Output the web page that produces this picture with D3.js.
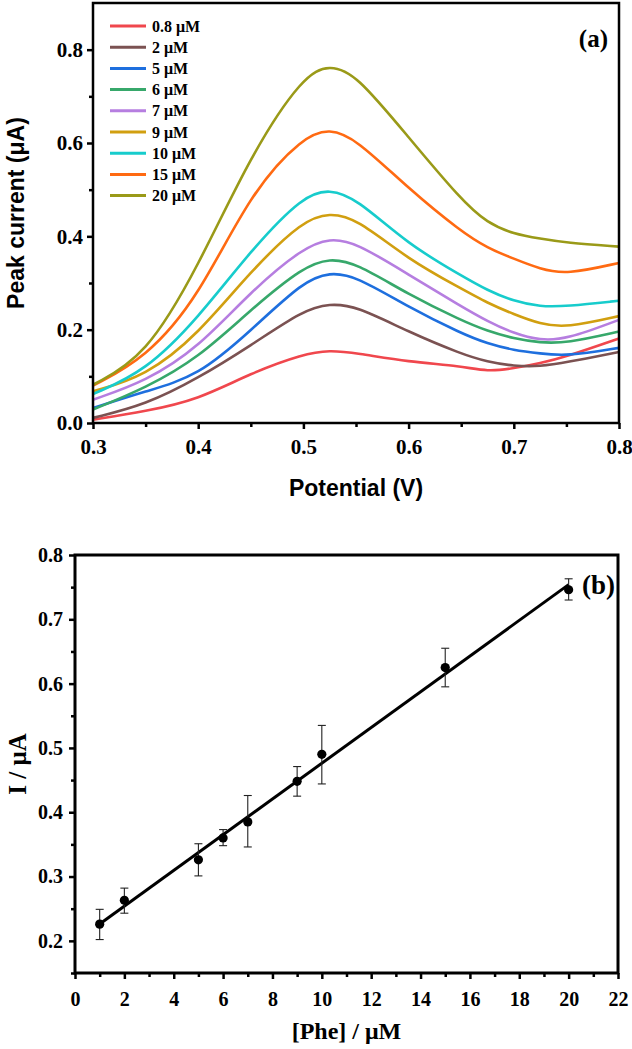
<!doctype html>
<html lang="en">
<head>
<meta charset="utf-8" />
<title>Phe DPV curves and calibration</title>
<script src="https://d3js.org/d3.v7.min.js"></script>
<style>
    body { margin: 0; background: #fff; }
    svg text { font-family: "Liberation Serif", "Times New Roman", serif; font-weight: bold; fill: #000; }
</style>
</head>
<body>

<svg id="chart" width="632" height="1049"></svg>

<script>
// ---- panel (a): DPV curves ----
const potential = [0.30, 0.35, 0.40, 0.45, 0.50, 0.525, 0.55, 0.60, 0.65, 0.675, 0.70, 0.725, 0.75, 0.80];

const i08 = [0.007, 0.025, 0.050, 0.107, 0.148, 0.156, 0.150, 0.131, 0.122, 0.110, 0.117, 0.128, 0.142, 0.181];
const i2  = [0.011, 0.039, 0.096, 0.166, 0.242, 0.256, 0.251, 0.195, 0.148, 0.131, 0.122, 0.121, 0.130, 0.152];
const i5  = [0.032, 0.068, 0.100, 0.198, 0.304, 0.323, 0.315, 0.248, 0.192, 0.170, 0.156, 0.149, 0.143, 0.161];
const i6  = [0.029, 0.075, 0.139, 0.243, 0.335, 0.353, 0.343, 0.275, 0.220, 0.197, 0.181, 0.172, 0.171, 0.196];
const i7  = [0.050, 0.089, 0.161, 0.282, 0.376, 0.396, 0.387, 0.318, 0.250, 0.218, 0.192, 0.177, 0.179, 0.221];
const i9  = [0.068, 0.100, 0.190, 0.326, 0.435, 0.450, 0.439, 0.350, 0.288, 0.257, 0.233, 0.212, 0.204, 0.229];
const i10 = [0.062, 0.111, 0.225, 0.370, 0.488, 0.501, 0.482, 0.382, 0.316, 0.284, 0.261, 0.249, 0.250, 0.262];
const i15 = [0.080, 0.139, 0.268, 0.495, 0.614, 0.631, 0.609, 0.502, 0.410, 0.375, 0.352, 0.330, 0.318, 0.343];
const i20 = [0.082, 0.142, 0.335, 0.575, 0.745, 0.768, 0.748, 0.612, 0.478, 0.428, 0.405, 0.395, 0.386, 0.378];

const concLabels = ["0.8 μM", "2 μM", "5 μM", "6 μM", "7 μM", "9 μM", "10 μM", "15 μM", "20 μM"];
const curveColors = ["#f0474d", "#7b5252", "#1e6fde", "#37a86b", "#b67ee0", "#d19f10", "#17cccc", "#ff6a12", "#9a9a18"];
const allCurves = [i08, i2, i5, i6, i7, i9, i10, i15, i20];

const potTicks = [0.3, 0.4, 0.5, 0.6, 0.7, 0.8];
const currTicks = [0.0, 0.2, 0.4, 0.6, 0.8];

// ---- panel (b): calibration ----
const phe = [1, 2, 5, 6, 7, 9, 10, 15, 20];
const peakI = [0.226, 0.263, 0.326, 0.360, 0.385, 0.448, 0.490, 0.625, 0.746];
const errLow = [0.202, 0.243, 0.301, 0.348, 0.346, 0.425, 0.444, 0.595, 0.730];
const errHigh = [0.249, 0.282, 0.351, 0.373, 0.426, 0.471, 0.535, 0.655, 0.763];

const pheTicks = d3.range(0, 23, 2);
const iTicks = [0.2, 0.3, 0.4, 0.5, 0.6, 0.7, 0.8];

const svg = d3.select("#chart");

function styleAxis(g, w) {
    g.select(".domain").remove();
    g.selectAll(".tick line").attr("stroke", "#000").attr("stroke-width", w);
}

// ================= panel (a) =================
const xa = d3.scaleLinear().domain([0.3, 0.8]).range([93, 619]);
const ya = d3.scaleLinear().domain([0, 0.9]).range([423, 3]);

const ga = svg.append("g");

ga.append("g")
    .attr("transform", "translate(0,423)")
    .call(d3.axisBottom(xa).tickValues(d3.range(0.35, 0.8, 0.1)).tickSize(4).tickFormat(""))
    .call(g => styleAxis(g, 2.5));
ga.append("g")
    .attr("transform", "translate(0,423)")
    .call(d3.axisBottom(xa).tickValues(potTicks).tickSize(6).tickPadding(10).tickFormat(d3.format(".1f")))
    .call(g => styleAxis(g, 2.5))
    .call(g => g.selectAll("text").style("font-size", "21px"));

ga.append("g")
    .attr("transform", "translate(93,0)")
    .call(d3.axisLeft(ya).tickValues([0.1, 0.3, 0.5, 0.7]).tickSize(4).tickFormat(""))
    .call(g => styleAxis(g, 2.5));
ga.append("g")
    .attr("transform", "translate(93,0)")
    .call(d3.axisLeft(ya).tickValues(currTicks).tickSize(6).tickPadding(4).tickFormat(d3.format(".1f")))
    .call(g => styleAxis(g, 2.5))
    .call(g => g.selectAll("text").style("font-size", "21px"));

// b-spline through the read points keeps the smooth look of the scan
const lineA = d3.line()
    .x((d, i) => xa(potential[i]))
    .y(d => ya(d))
    .curve(d3.curveBasis);

ga.selectAll("path.curve")
    .data(allCurves)
    .enter()
    .append("path")
        .attr("class", "curve")
        .attr("d", lineA)
        .attr("fill", "none")
        .attr("stroke", (d, i) => curveColors[i])
        .attr("stroke-width", 2.6);

ga.append("rect")
    .attr("x", 93).attr("y", 3)
    .attr("width", 619 - 93).attr("height", 420)
    .attr("fill", "none").attr("stroke", "#000").attr("stroke-width", 2.5);

// legend
const leg = ga.selectAll("g.leg")
    .data(concLabels)
    .enter()
    .append("g")
        .attr("class", "leg")
        .attr("transform", (d, i) => `translate(110,${26 + i * 21.2})`);
leg.append("line")
    .attr("x1", 0).attr("x2", 36)
    .attr("stroke", (d, i) => curveColors[i])
    .attr("stroke-width", 3);
leg.append("text")
    .attr("x", 42).attr("dy", "0.35em")
    .style("font-size", "16px")
    .text(d => d);

ga.append("text")
    .attr("x", 608).attr("y", 47)
    .attr("text-anchor", "end")
    .style("font-size", "25px")
    .text("(a)");

ga.append("text")
    .attr("x", (93 + 619) / 2).attr("y", 496)
    .attr("text-anchor", "middle")
    .style("font-family", "'Liberation Sans', Arial, sans-serif")
    .style("font-size", "23px")
    .text("Potential (V)");

ga.append("text")
    .attr("transform", `translate(24,${(3 + 423) / 2}) rotate(-90)`)
    .attr("text-anchor", "middle")
    .style("font-family", "'Liberation Sans', Arial, sans-serif")
    .style("font-size", "23px")
    .text("Peak current (μA)");

// ================= panel (b) =================
const xb = d3.scaleLinear().domain([0, 22]).range([75, 618]);
const yb = d3.scaleLinear().domain([0.15, 0.8]).range([973, 555]);

const gb = svg.append("g");

gb.append("g")
    .attr("transform", "translate(0,973)")
    .call(d3.axisBottom(xb).tickValues(d3.range(1, 22, 2)).tickSize(4).tickFormat(""))
    .call(g => styleAxis(g, 2.5));
gb.append("g")
    .attr("transform", "translate(0,973)")
    .call(d3.axisBottom(xb).tickValues(pheTicks).tickSize(6).tickPadding(13))
    .call(g => styleAxis(g, 2.5))
    .call(g => g.selectAll("text").style("font-size", "20px"));

gb.append("g")
    .attr("transform", "translate(75,0)")
    .call(d3.axisLeft(yb).tickValues([0.15, 0.25, 0.35, 0.45, 0.55, 0.65, 0.75]).tickSize(4).tickFormat(""))
    .call(g => styleAxis(g, 2.5));
gb.append("g")
    .attr("transform", "translate(75,0)")
    .call(d3.axisLeft(yb).tickValues(iTicks).tickSize(6).tickPadding(6).tickFormat(d3.format(".1f")))
    .call(g => styleAxis(g, 2.5))
    .call(g => g.selectAll("text").style("font-size", "20px"));

// least squares fit line
const mx = d3.mean(phe), my = d3.mean(peakI);
const slope = d3.sum(phe, (x, i) => (x - mx) * (peakI[i] - my)) / d3.sum(phe, x => (x - mx) * (x - mx));
const icpt = my - slope * mx;
const xExt = d3.extent(phe);

gb.append("line")
    .attr("x1", xb(xExt[0])).attr("y1", yb(icpt + slope * xExt[0]))
    .attr("x2", xb(xExt[1])).attr("y2", yb(icpt + slope * xExt[1]))
    .attr("stroke", "#000").attr("stroke-width", 3);

const eb = gb.selectAll("g.err")
    .data(phe)
    .enter()
    .append("g")
        .attr("class", "err")
        .attr("stroke", "#222").attr("stroke-width", 1.1);
eb.append("line")
    .attr("x1", d => xb(d)).attr("x2", d => xb(d))
    .attr("y1", (d, i) => yb(errLow[i])).attr("y2", (d, i) => yb(errHigh[i]));
eb.append("line")
    .attr("x1", d => xb(d) - 4).attr("x2", d => xb(d) + 4)
    .attr("y1", (d, i) => yb(errLow[i])).attr("y2", (d, i) => yb(errLow[i]));
eb.append("line")
    .attr("x1", d => xb(d) - 4).attr("x2", d => xb(d) + 4)
    .attr("y1", (d, i) => yb(errHigh[i])).attr("y2", (d, i) => yb(errHigh[i]));

gb.selectAll("circle")
    .data(phe)
    .enter()
    .append("circle")
        .attr("cx", d => xb(d))
        .attr("cy", (d, i) => yb(peakI[i]))
        .attr("r", 4.6)
        .attr("fill", "#000");

gb.append("rect")
    .attr("x", 75).attr("y", 555)
    .attr("width", 618 - 75).attr("height", 973 - 555)
    .attr("fill", "none").attr("stroke", "#000").attr("stroke-width", 3);

gb.append("text")
    .attr("x", 615).attr("y", 594)
    .attr("text-anchor", "end")
    .style("font-size", "27px")
    .text("(b)");

gb.append("text")
    .attr("x", (75 + 618) / 2).attr("y", 1039)
    .attr("text-anchor", "middle")
    .style("font-size", "24px")
    .text("[Phe] / μM");

gb.append("text")
    .attr("transform", `translate(26,${(555 + 973) / 2}) rotate(-90)`)
    .attr("text-anchor", "middle")
    .style("font-size", "25px")
    .text("I / μA");
</script>

</body>
</html>
